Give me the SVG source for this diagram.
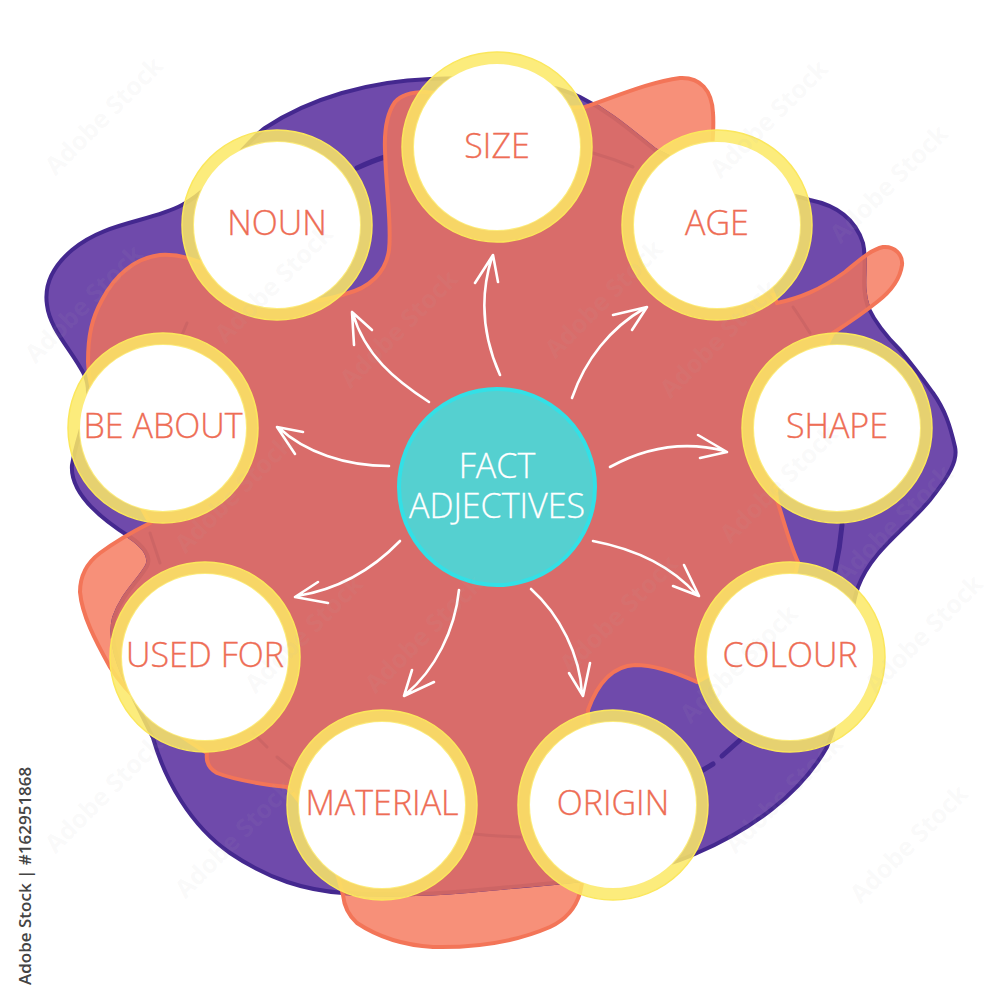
<svg xmlns="http://www.w3.org/2000/svg" width="1000" height="1000" viewBox="0 0 1000 1000">
<style>
.lbl{font-family:"Open Sans","Noto Sans",sans-serif;font-weight:300;font-size:34px;fill:#ee6d55;stroke:#ee6d55;stroke-width:.35;text-anchor:middle}
.ctr{font-family:"Open Sans","Noto Sans",sans-serif;font-weight:300;font-size:34px;fill:#fff;stroke:#fff;stroke-width:.3;text-anchor:middle}
.disc{fill:#fff}
.ring{fill:none;stroke:#fce965;stroke-opacity:.85;stroke-width:12}
.edge{fill:none;stroke:#fbe75c;stroke-width:1.5}
.arrow{fill:none;stroke:#fff;stroke-width:2.6;stroke-linecap:round;stroke-linejoin:round}
.ringp{fill:none;stroke:#44288f;stroke-width:5;stroke-linecap:round}
.ringc{fill:none;stroke:#cd6565;stroke-width:3;stroke-linecap:round}
.wm{font-family:"Open Sans",sans-serif;font-weight:700;font-size:25px;fill:#b8b8b8;fill-opacity:.08;text-anchor:middle}
</style>
<defs>
<path id="purple" d="M430 79C370 81 310 98 265 128C245 142 215 188 182 205C150 222 105 222 72 250C52 267 44 285 47 305C50 330 72 350 85 376C95 400 78 430 72 465C70 490 95 515 130 537C142 545 152 556 147 566C138 582 122 594 114 618C106 650 130 690 153 738C165 780 190 825 230 853C270 880 305 890 343 893C400 897 450 893 500 888C590 880 650 875 697 853C750 830 800 795 827 747C850 690 845 625 858 587C872 550 905 530 930 500C950 475 958 460 955 447C950 425 945 410 933 393C920 375 915 368 900 350C885 335 875 322 868 307C860 285 868 265 863 243C855 218 835 205 810 200C760 185 700 175 655 150C630 130 610 112 580 97C540 78 480 77 430 79Z"/>
<path id="orange" d="M585 107C620 95 650 82 680 78C700 77 712 90 713 113C714 125 713 135 712 150C735 200 760 260 777 303C800 298 820 290 845 272C860 260 870 250 883 247C895 246 903 255 902 265C900 280 890 292 877 302C862 314 850 322 833 333C800 400 770 450 777 500C785 525 790 545 798 562C790 610 740 660 697 682C675 672 655 665 635 665C612 666 597 685 588 710C590 780 590 850 580 893C575 910 565 920 550 927C520 940 480 948 433 947C400 945 375 935 357 923C347 914 344 905 343 895C330 840 300 800 287 787C260 784 235 780 217 773C208 768 206 760 207 753C170 730 130 700 110 667C95 640 82 615 80 592C80 575 88 562 100 553C115 542 132 532 150 523C120 470 90 410 88 362C88 335 92 318 102 300C115 275 135 258 160 255C175 254 190 258 200 262C245 300 300 310 345 294C370 288 386 272 389 250C392 225 386 190 385 150C384 125 388 112 395 102C402 94 412 92 425 92C480 95 540 110 585 107Z"/>
<clipPath id="cp"><use href="#purple"/></clipPath>
<clipPath id="co"><use href="#orange"/></clipPath>
</defs>
<g id="blobs">
<use href="#orange" fill="#f79079"/>
<use href="#purple" fill="#6f4aab" stroke="#44288f" stroke-width="4"/>
<g class="ringp">
<path d="M357 168Q372 161 385 157"/><path d="M842 525Q840 548 835 570"/><path d="M703 770L713 764"/><path d="M722 756L740 740"/>
</g>
<use href="#orange" fill="#d96c6a" clip-path="url(#cp)"/>
<g clip-path="url(#co)">
<use href="#purple" fill="none" stroke="#cd6565" stroke-width="4"/>
<g class="ringc">
<path d="M593 153Q614 159 633 167"/><path d="M793 307Q802 320 810 333"/><path d="M150 533L160 563"/><path d="M253 733L267 747"/><path d="M277 757L293 770"/><path d="M187 323L182 335"/><path d="M467 833Q490 836 520 837"/>
</g>
</g>
<use href="#orange" fill="none" stroke="#f37558" stroke-width="4"/>
</g>
<g id="connectors" class="arrow">
<path d="M429 402C395 380 365 355 353 314M352 312L354 345M352 312L372 330"/>
<path d="M389 466C345 466 305 452 279 428M277 427L295 454M277 427L303 432"/>
<path d="M500 375C482 335 480 295 492 257M493 255L475 283M493 255L498 282"/>
<path d="M572 398C585 360 610 328 645 308M647 307L613 315M647 307L632 330"/>
<path d="M610 467C650 445 690 442 725 451M727 452L698 435M727 452L700 458"/>
<path d="M593 541C640 550 675 570 697 595M699 596L684 565M699 596L673 586"/>
<path d="M531 589C560 615 580 655 582 694M583 696L569 673M583 696L590 663"/>
<path d="M459 590C455 630 435 670 406 694M404 696L412 670M404 696L434 682"/>
<path d="M400 541C370 572 335 590 297 596M295 597L318 582M295 597L328 603"/>
</g>
<g id="center"><circle cx="497" cy="487" r="98" fill="#55d0d0" stroke="#33e0e6" stroke-width="4"/><text class="ctr" x="497" y="478">FACT</text><text class="ctr" x="497" y="518">ADJECTIVES</text></g>
<g id="size"><circle class="disc" cx="497" cy="147" r="84"/><circle class="ring" cx="497" cy="147" r="89"/><circle class="edge" cx="497" cy="147" r="95"/><text class="lbl" x="497" y="158">SIZE</text></g>
<g id="age"><circle class="disc" cx="717" cy="225" r="84"/><circle class="ring" cx="717" cy="225" r="89"/><circle class="edge" cx="717" cy="225" r="95"/><text class="lbl" x="717" y="235">AGE</text></g>
<g id="shape"><circle class="disc" cx="837" cy="428" r="84"/><circle class="ring" cx="837" cy="428" r="89"/><circle class="edge" cx="837" cy="428" r="95"/><text class="lbl" x="837" y="438">SHAPE</text></g>
<g id="colour"><circle class="disc" cx="790" cy="657" r="84"/><circle class="ring" cx="790" cy="657" r="89"/><circle class="edge" cx="790" cy="657" r="95"/><text class="lbl" x="790" y="667">COLOUR</text></g>
<g id="origin"><circle class="disc" cx="613" cy="805" r="84"/><circle class="ring" cx="613" cy="805" r="89"/><circle class="edge" cx="613" cy="805" r="95"/><text class="lbl" x="613" y="815">ORIGIN</text></g>
<g id="material"><circle class="disc" cx="382" cy="805" r="84"/><circle class="ring" cx="382" cy="805" r="89"/><circle class="edge" cx="382" cy="805" r="95"/><text class="lbl" x="382" y="815">MATERIAL</text></g>
<g id="used-for"><circle class="disc" cx="205" cy="657" r="84"/><circle class="ring" cx="205" cy="657" r="89"/><circle class="edge" cx="205" cy="657" r="95"/><text class="lbl" x="205" y="667">USED FOR</text></g>
<g id="be-about"><circle class="disc" cx="163" cy="428" r="84"/><circle class="ring" cx="163" cy="428" r="89"/><circle class="edge" cx="163" cy="428" r="95"/><text class="lbl" x="163" y="438">BE ABOUT</text></g>
<g id="noun"><circle class="disc" cx="277" cy="225" r="84"/><circle class="ring" cx="277" cy="225" r="89"/><circle class="edge" cx="277" cy="225" r="95"/><text class="lbl" x="277" y="235">NOUN</text></g>
<g id="watermark" class="wm">
<text transform="translate(110 122) rotate(-45)">Adobe Stock</text>
<text transform="translate(775 125) rotate(-45)">Adobe Stock</text>
<text transform="translate(895 190) rotate(-45)">Adobe Stock</text>
<text transform="translate(90 310) rotate(-45)">Adobe Stock</text>
<text transform="translate(280 290) rotate(-45)">Adobe Stock</text>
<text transform="translate(405 335) rotate(-45)">Adobe Stock</text>
<text transform="translate(610 305) rotate(-45)">Adobe Stock</text>
<text transform="translate(725 345) rotate(-45)">Adobe Stock</text>
<text transform="translate(240 500) rotate(-45)">Adobe Stock</text>
<text transform="translate(785 490) rotate(-45)">Adobe Stock</text>
<text transform="translate(900 530) rotate(-45)">Adobe Stock</text>
<text transform="translate(110 800) rotate(-45)">Adobe Stock</text>
<text transform="translate(310 640) rotate(-45)">Adobe Stock</text>
<text transform="translate(430 640) rotate(-45)">Adobe Stock</text>
<text transform="translate(625 620) rotate(-45)">Adobe Stock</text>
<text transform="translate(745 670) rotate(-45)">Adobe Stock</text>
<text transform="translate(930 640) rotate(-45)">Adobe Stock</text>
<text transform="translate(240 845) rotate(-45)">Adobe Stock</text>
<text transform="translate(790 800) rotate(-45)">Adobe Stock</text>
<text transform="translate(915 850) rotate(-45)">Adobe Stock</text>
</g>
<text transform="translate(31 985) rotate(-90)" font-family="Open Sans,sans-serif" font-size="17" font-weight="600" fill="#444">Adobe Stock | #162951868</text>
</svg>
